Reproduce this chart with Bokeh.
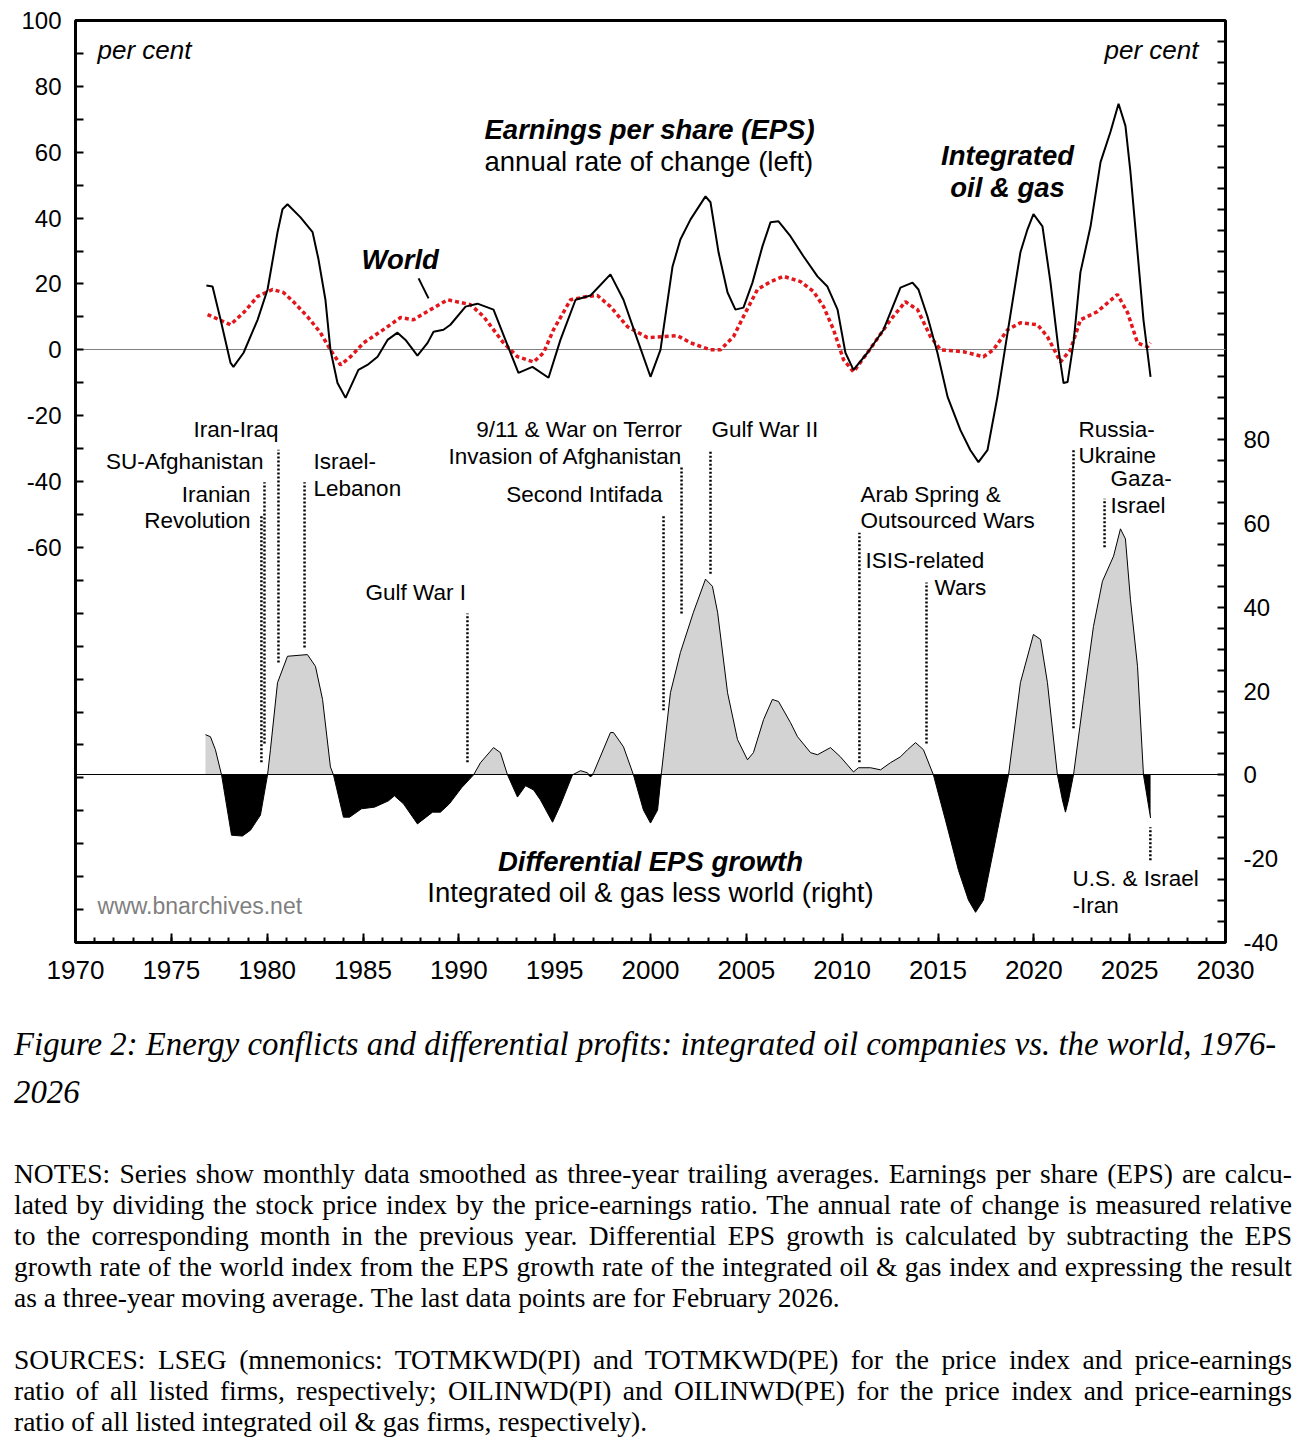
import html
from bokeh.plotting import figure
from bokeh.models import Range1d, LinearAxis, FixedTicker, CustomJSTickFormatter, Div
from bokeh.layouts import column
from bokeh.core.properties import value
from bokeh.embed import file_html
from bokeh.resources import INLINE

SANS = "Liberation Sans"
SERIF = "Liberation Serif"

# ---------------- data ----------------
oil_years = [1976.83, 1977.15, 1977.57, 1978.09, 1978.24, 1978.77, 1979.50, 1980.02, 1980.54, 1980.80,
             1981.06, 1981.74, 1982.37, 1982.68, 1983.04, 1983.30, 1983.67, 1984.09, 1984.76, 1985.23,
             1985.76, 1986.28, 1986.80, 1987.22, 1987.84, 1988.37, 1988.68, 1989.20, 1989.56, 1990.35,
             1990.97, 1991.81, 1992.43, 1993.11, 1993.84, 1994.68, 1995.30, 1996.09, 1996.87, 1997.91,
             1998.59, 1999.32, 2000.00, 2000.52, 2001.15, 2001.56, 2002.09, 2002.87, 2003.13, 2003.55,
             2004.02, 2004.43, 2004.85, 2005.32, 2005.84, 2006.26, 2006.68, 2007.30, 2007.98, 2008.71,
             2009.23, 2009.76, 2010.17, 2010.59, 2011.32, 2012.16, 2013.04, 2013.67, 2013.98, 2014.45,
             2014.97, 2015.50, 2016.17, 2016.69, 2017.11, 2017.58, 2018.10, 2018.63, 2019.30, 2019.67,
             2019.98, 2020.45, 2020.87, 2021.29, 2021.55, 2021.76, 2022.07, 2022.43, 2022.96, 2023.48,
             2024.00, 2024.42, 2024.78, 2025.04, 2025.41, 2025.72, 2026.09]
oil_eps = [19.5, 19.2, 9.1, -4.0, -5.2, -0.9, 9.1, 18.3, 35.7, 42.7,
           44.2, 40.2, 35.7, 27.4, 15.2, 0.0, -10.1, -14.6, -6.1, -4.6,
           -2.1, 3.0, 5.2, 3.0, -1.8, 2.1, 5.5, 6.1, 7.6, 13.1,
           14.0, 12.2, 3.0, -7.0, -5.2, -8.5, 3.0, 15.2, 16.5, 22.9,
           15.2, 3.0, -8.2, 0.0, 25.3, 33.5, 39.6, 46.6, 44.8, 29.6,
           17.4, 12.2, 12.8, 20.4, 31.4, 38.7, 39.0, 34.5, 28.4, 22.3,
           19.2, 12.2, -0.9, -6.1, -0.9, 6.1, 18.9, 20.4, 18.3, 10.1,
           -0.9, -14.3, -24.4, -30.5, -34.1, -30.5, -14.3, 5.2, 29.6, 36.6,
           41.2, 37.5, 20.4, 0.0, -10.1, -9.8, 2.1, 23.5, 37.5, 57.0,
           66.2, 74.7, 68.0, 54.0, 29.6, 9.1, -8.2]

world_years = [1976.89, 1978.09, 1978.77, 1979.50, 1980.28, 1980.85, 1981.37, 1982.10, 1982.78, 1983.30,
               1983.83, 1984.35, 1985.03, 1985.91, 1986.96, 1987.63, 1988.52, 1989.41, 1990.61, 1991.29,
               1992.33, 1993.06, 1993.90, 1994.42, 1994.94, 1995.83, 1996.71, 1997.23, 1997.91, 1998.80,
               1999.84, 2001.41, 2002.09, 2003.13, 2003.65, 2004.33, 2004.85, 2005.58, 2006.26, 2006.94,
               2007.83, 2008.50, 2009.03, 2009.55, 2010.07, 2010.59, 2011.32, 2012.16, 2012.52, 2013.30,
               2013.93, 2014.61, 2015.13, 2016.33, 2017.37, 2017.89, 2018.63, 2019.30, 2020.19, 2020.71,
               2021.39, 2021.91, 2022.43, 2023.32, 2024.36, 2024.89, 2025.41, 2025.93, 2026.09]
world_eps = [10.7, 7.6, 11.3, 16.2, 18.3, 17.4, 14.6, 10.1, 5.2, 0.0,
             -4.6, -2.1, 2.1, 5.5, 9.8, 9.1, 12.2, 15.2, 13.7, 10.1,
             2.1, -2.1, -3.7, -0.9, 6.1, 15.2, 16.2, 16.5, 13.1, 7.0,
             3.7, 4.3, 2.1, 0.0, 0.0, 4.0, 10.1, 18.3, 20.7, 22.3,
             20.7, 17.7, 13.1, 6.1, -3.0, -6.7, -0.9, 6.1, 9.1, 14.6,
             12.2, 4.0, 0.0, -0.6, -2.1, 0.0, 6.1, 8.2, 7.6, 4.0,
             -3.7, 0.0, 9.1, 11.6, 16.8, 11.3, 2.1, 0.9, 2.1]

diff_years = [1976.78, 1977.04, 1977.30, 1977.62, 1978.14, 1978.71, 1979.13, 1979.65, 1980.02, 1980.17,
              1980.54, 1981.06, 1982.10, 1982.52, 1982.89, 1983.30, 1983.46, 1983.98, 1984.30, 1984.92,
              1985.60, 1986.33, 1986.64, 1987.11, 1987.84, 1988.63, 1989.04, 1989.51, 1990.14, 1990.77,
              1991.13, 1991.81, 1992.17, 1992.54, 1993.06, 1993.48, 1993.90, 1994.26, 1994.89, 1995.30,
              1995.93, 1996.35, 1996.71, 1996.87, 1997.03, 1997.91, 1998.07, 1998.59, 1999.11, 1999.63,
              2000.00, 2000.37, 2000.57, 2001.04, 2001.56, 2002.24, 2002.87, 2003.23, 2003.50, 2004.02,
              2004.54, 2005.06, 2005.37, 2005.90, 2006.36, 2006.68, 2007.30, 2007.67, 2008.35, 2008.71,
              2009.39, 2009.91, 2010.59, 2010.85, 2011.48, 2012.00, 2012.52, 2013.04, 2013.41, 2013.83,
              2014.24, 2014.76, 2015.39, 2016.07, 2016.59, 2016.96, 2017.37, 2018.00, 2018.68, 2019.30,
              2019.98, 2020.35, 2020.71, 2021.23, 2021.49, 2021.65, 2021.81, 2022.07, 2022.59, 2023.11,
              2023.58, 2024.16, 2024.52, 2024.78, 2025.04, 2025.41, 2025.72, 2026.09]
diff_vals = [9.6, 9.1, 6.0, 0.0, -14.4, -14.6, -13.2, -9.6, 0.0, 6.0,
             22.0, 28.3, 28.7, 25.9, 18.0, 1.9, 0.0, -10.1, -10.1, -8.1,
             -7.7, -6.2, -5.0, -6.9, -11.7, -8.9, -8.9, -6.9, -3.1, 0.0,
             2.9, 6.5, 5.3, 0.0, -5.3, -2.6, -3.6, -6.0, -11.3, -7.2,
             0.0, 1.0, 0.5, -0.5, 0.5, 10.1, 10.1, 6.7, 0.0, -8.4,
             -11.5, -8.4, 0.5, 19.6, 29.2, 38.8, 46.7, 45.0, 38.8, 19.6,
             8.4, 3.6, 5.3, 13.2, 18.0, 17.5, 12.5, 9.1, 5.3, 4.8,
             6.5, 4.3, 0.7, 1.7, 1.7, 1.2, 2.9, 4.3, 6.0, 7.7,
             6.0, 0.0, -10.8, -22.8, -29.9, -32.8, -29.9, -15.6, 0.0, 22.0,
             33.5, 32.3, 22.0, 0.0, -6.0, -8.9, -6.0, 0.0, 18.0, 35.4,
             46.2, 52.2, 58.7, 56.3, 41.9, 25.9, 0.0, -10.3]

event_names = ["Iranian Revolution", "SU-Afghanistan", "Iran-Iraq", "Israel-Lebanon", "Gulf War I",
               "Second Intifada", "9/11", "Gulf War II", "Arab Spring", "ISIS-related Wars",
               "Russia-Ukraine", "Gaza-Israel", "U.S. & Israel-Iran"]
event_years = [1979.70, 1979.86, 1980.59, 1981.95, 1990.45, 2000.68, 2001.62, 2003.13, 2010.90,
               2014.40, 2022.07, 2023.69, 2026.08]
event_top = [61.9, 69.8, 77.6, 69.8, 38.5, 61.9, 73.8, 77.6, 57.8, 45.9, 77.6, 65.9, -12.5]
event_bottom = [3.0, 7.5, 26.8, 30.4, 3.0, 15.4, 38.5, 48.0, 3.0, 7.5, 11.1, 54.3, -20.4]

x_tick_years = list(range(1970, 2031, 5))
x_minor_years = list(range(1970, 2031))
left_tick_labels = [100, 80, 60, 40, 20, 0, -20, -40, -60]
right_tick_labels = [80, 60, 40, 20, 0, -20, -40]

caption_lines = ["Figure 2: Energy conflicts and differential profits: integrated oil companies vs. the world, 1976-",
                 "2026"]
notes_lines = [
    "NOTES: Series show monthly data smoothed as three-year trailing averages. Earnings per share (EPS) are calcu-",
    "lated by dividing the stock price index by the price-earnings ratio. The annual rate of change is measured relative",
    "to the corresponding month in the previous year. Differential EPS growth is calculated by subtracting the EPS",
    "growth rate of the world index from the EPS growth rate of the integrated oil & gas index and expressing the result",
    "as a three-year moving average. The last data points are for February 2026.",
]
sources_lines = [
    "SOURCES: LSEG (mnemonics: TOTMKWD(PI) and TOTMKWD(PE) for the price index and price-earnings",
    "ratio of all listed firms, respectively; OILINWD(PI) and OILINWD(PE) for the price index and price-earnings",
    "ratio of all listed integrated oil & gas firms, respectively).",
]

# ---------------- figure ----------------
p = figure(width=1296, height=1008, x_range=Range1d(1970, 2030), y_range=Range1d(-180, 100),
           output_backend="svg", toolbar_location=None,
           min_border_left=75, min_border_right=71, min_border_top=20, min_border_bottom=66)
p.extra_y_ranges = {"right": Range1d(-40, 180)}
p.add_layout(LinearAxis(y_range_name="right"), "right")
p.background_fill_color = "white"
p.border_fill_color = "white"
p.outline_line_color = "black"
p.outline_line_width = 3
p.xgrid.grid_line_color = None
p.ygrid.grid_line_color = None

xax = p.xaxis[0]
lax = p.yaxis[0]
rax = p.yaxis[1]
xax.ticker = FixedTicker(ticks=x_tick_years, minor_ticks=x_minor_years)
lax.ticker = FixedTicker(ticks=list(range(-180, 101, 10)), minor_ticks=[])
rax.ticker = FixedTicker(ticks=list(range(-40, 181, 5)), minor_ticks=[])
lax.formatter = CustomJSTickFormatter(args=dict(show=left_tick_labels),
                                      code="return show.includes(tick) ? String(tick) : '';")
rax.formatter = CustomJSTickFormatter(args=dict(show=right_tick_labels),
                                      code="return show.includes(tick) ? String(tick) : '';")
for ax in (xax, lax, rax):
    ax.axis_line_color = None
    ax.major_tick_line_color = "black"
    ax.major_tick_line_width = 2
    ax.major_tick_out = 0
    ax.major_tick_in = 8
    ax.minor_tick_out = 0
    ax.minor_tick_in = 0
    ax.major_label_text_font = SANS
    ax.major_label_text_color = "black"
    ax.major_label_text_font_size = "24px"
xax.minor_tick_in = 5
xax.minor_tick_line_color = "black"
xax.minor_tick_line_width = 2
xax.major_tick_in = 9
xax.major_label_text_font_size = "26px"
xax.major_label_standoff = 18
lax.major_label_standoff = 14
rax.major_label_standoff = 18

# differential area (right axis)
pos = [max(v, 0.0) for v in diff_vals]
neg = [min(v, 0.0) for v in diff_vals]
p.varea(x=diff_years, y1=0, y2=pos, y_range_name="right", fill_color="#d3d3d3")
p.varea(x=diff_years, y1=0, y2=neg, y_range_name="right", fill_color="black")
p.line(diff_years, diff_vals, y_range_name="right", line_color="black", line_width=1)

# zero lines
p.hspan(y=0, line_color="#808080", line_width=1)
p.hspan(y=0, y_range_name="right", line_color="black", line_width=1)

# EPS lines (left axis)
p.line(world_years, world_eps, line_color="#e3161c", line_width=3.5, line_dash="4 3")
p.line(oil_years, oil_eps, line_color="black", line_width=2)

# event markers
p.segment(x0=event_years, y0=event_bottom, x1=event_years, y1=event_top, y_range_name="right",
          line_color="black", line_width=2.5, line_dash="2 2")

# leader for "World"
p.segment(x0=[1987.90], y0=[21.7], x1=[1988.42], y1=[15.6], line_color="black", line_width=2)


def add_text(items, size, style="normal", align="left", color="black"):
    p.text(x=[i[1] for i in items], y=[i[2] for i in items], text=[i[0] for i in items],
           text_font=value(SANS), text_font_size=size, text_font_style=style,
           text_align=align, text_baseline="middle", text_color=color)


add_text([("per cent", 1971.15, 90.9)], "26px", "italic", "left")
add_text([("per cent", 2028.59, 90.9)], "26px", "italic", "right")
add_text([("Earnings per share (EPS)", 1991.34, 66.9), ("World", 1984.92, 27.4)],
         "27.5px", "bold italic", "left")
add_text([("annual rate of change (left)", 1991.34, 57.2)], "27.5px", "normal", "left")
add_text([("Integrated", 2018.63, 59.0), ("oil & gas", 2018.63, 49.3),
          ("Differential EPS growth", 2000.0, -155.4)], "27.5px", "bold italic", "center")
add_text([("Integrated oil & gas less world (right)", 2000.0, -164.8)], "27.5px", "normal", "center")
add_text([("Iran-Iraq", 1980.59, -24.2), ("SU-Afghanistan", 1979.81, -33.9),
          ("Iranian", 1979.13, -44.0), ("Revolution", 1979.13, -51.9),
          ("9/11 & War on Terror", 2001.67, -24.2), ("Invasion of Afghanistan", 2001.67, -32.4),
          ("Second Intifada", 2000.63, -44.0)], "22.5px", "normal", "right")
add_text([("Israel-", 1982.42, -33.9), ("Lebanon", 1982.42, -42.1), ("Gulf War I", 1985.13, -73.7),
          ("Gulf War II", 2003.18, -24.2), ("Arab Spring &", 2010.96, -44.0),
          ("Outsourced Wars", 2010.96, -51.9), ("ISIS-related", 2011.22, -64.0),
          ("Wars", 2014.82, -72.2), ("Russia-", 2022.33, -24.2), ("Ukraine", 2022.33, -32.1),
          ("Gaza-", 2024.00, -39.1), ("Israel", 2024.00, -47.3),
          ("U.S. & Israel", 2022.02, -160.5), ("-Iran", 2022.02, -168.7)], "22.5px", "normal", "left")
add_text([("www.bnarchives.net", 1971.15, -169.0)], "23px", "normal", "left", "#7f7f7f")

# ---------------- caption and notes ----------------
cap_html = ('<div style="font-family:\'%s\',serif;font-style:italic;font-size:32.8px;line-height:48px;'
            'padding-top:12px;padding-left:14px;white-space:nowrap;color:#000;">%s<br>%s</div>'
            % (SERIF, html.escape(caption_lines[0]), html.escape(caption_lines[1])))


def line_div(txt, last=False, h=31):
    just = "left" if last else "justify"
    return ('<div style="width:1278px;height:%dpx;line-height:31px;text-align:%s;text-align-last:%s;'
            'white-space:nowrap;overflow:visible;">%s</div>' % (h, just, just, html.escape(txt)))


parts = []
for i, t in enumerate(notes_lines):
    parts.append(line_div(t, last=(i == len(notes_lines) - 1)))
parts.append('<div style="height:31px;"></div>')
for i, t in enumerate(sources_lines):
    last = (i == len(sources_lines) - 1)
    parts.append(line_div(t, last=last, h=(27 if last else 31)))
notes_html = ('<div style="font-family:\'%s\',serif;font-size:27.5px;color:#000;padding-top:40px;'
              'padding-left:14px;">%s</div>' % (SERIF, "".join(parts)))

cap_div = Div(text=cap_html, width=1296, height=110, margin=(0, 0, 0, 0))
notes_div = Div(text=notes_html, width=1296, height=315, margin=(0, 0, 0, 0))

layout = column(p, cap_div, notes_div, spacing=0)
open("out.html", "w").write(file_html(layout, INLINE))
